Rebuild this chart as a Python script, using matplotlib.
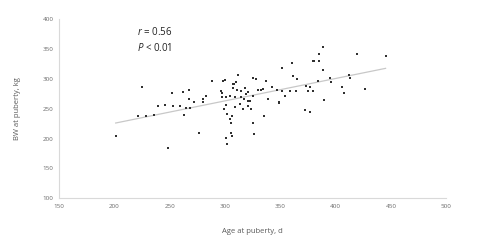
import matplotlib
matplotlib.use('Agg')
import matplotlib.pyplot as plt
import numpy as np

# age at puberty (d) and body weight at puberty (kg)
age_d = [201, 225, 221, 228, 236, 239, 246, 248, 252, 253, 259, 262, 263, 265, 267, 267,
         268, 272, 276, 280, 280, 283, 288, 296, 297, 297, 298, 300, 299, 301, 301, 302,
         301, 302, 304, 304, 305, 305, 306, 306, 307, 307, 308, 309, 309, 310, 311, 312,
         313, 314, 314, 316, 317, 318, 319, 321, 321, 321, 322, 323, 325, 325, 325, 326,
         328, 330, 332, 334, 335, 337, 339, 342, 347, 349, 349, 351, 351, 354, 359, 360,
         361, 364, 365, 372, 373, 375, 377, 377, 379, 380, 379, 384, 385, 385, 388, 388,
         389, 395, 396, 406, 407, 412, 413, 419, 426, 445]
bw_kg = [205, 286, 237, 238, 239, 254, 256, 185, 276, 254, 255, 278, 239, 252, 282, 266,
         252, 261, 209, 267, 261, 271, 297, 279, 276, 270, 296, 298, 249, 257, 269, 241,
         201, 191, 271, 233, 226, 210, 205, 237, 291, 285, 292, 269, 253, 295, 282, 307,
         258, 280, 270, 249, 266, 284, 275, 278, 263, 254, 263, 250, 302, 272, 226, 207,
         300, 282, 282, 283, 237, 297, 267, 286, 282, 262, 259, 318, 280, 272, 280, 326,
         304, 280, 300, 248, 288, 279, 286, 244, 329, 329, 279, 297, 341, 329, 353, 315,
         264, 301, 295, 287, 276, 306, 301, 341, 283, 338]

x = np.array(age_d)
y = np.array(bw_kg)
slope, icpt = np.polyfit(x, y, 1)
xfit = np.array([x.min(), x.max()])

plt.rcParams['font.family'] = ['Open Sans', 'DejaVu Sans']
plt.rcParams['mathtext.fontset'] = 'custom'
plt.rcParams['mathtext.it'] = 'Open Sans:italic'
plt.rcParams['mathtext.rm'] = 'Open Sans'
fig = plt.figure(figsize=(4.9, 2.44), dpi=100)
ax = fig.add_axes([0.121, 0.187, 0.79, 0.735])

ax.plot(xfit, slope * xfit + icpt, color='#c8c8c8', linewidth=0.9, zorder=1)
ax.scatter(x, y, s=3, marker='s', color='#303030', linewidths=0, zorder=2)

ax.set_xlim(150, 500)
ax.set_ylim(100, 400)
ax.set_xticks(range(150, 501, 50))
ax.set_yticks(range(100, 401, 50))
ax.tick_params(length=0, labelsize=4.5, labelcolor='#6a6a6a', pad=4)
for side in ['top', 'right']:
    ax.spines[side].set_visible(False)
for side in ['left', 'bottom']:
    ax.spines[side].set_color('#d9d9d9')
    ax.spines[side].set_linewidth(0.8)

ax.set_xlabel('Age at puberty, d', fontsize=5.5, color='#595959', labelpad=14)
ax.set_ylabel('BW at puberty, kg', fontsize=5.5, color='#595959', labelpad=16)

ax.text(0.2, 0.91, '$r$ = 0.56', transform=ax.transAxes, fontsize=7, color='#222222')
ax.text(0.2, 0.82, '$P$ < 0.01', transform=ax.transAxes, fontsize=7, color='#222222')

fig.savefig('out.png', dpi=100)
